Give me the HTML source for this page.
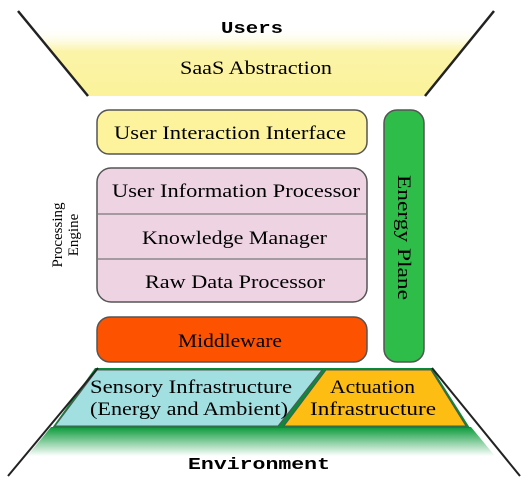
<!DOCTYPE html>
<html><head><style>
body{margin:0;width:531px;height:482px;background:#fff;overflow:hidden}
</style></head><body>
<svg width="531" height="482" xmlns="http://www.w3.org/2000/svg" font-family="Liberation Serif, serif">
<defs>
<linearGradient id="yg" x1="0" y1="0" x2="0" y2="1">
<stop offset="0" stop-color="#fff" stop-opacity="0"/>
<stop offset="0.35" stop-color="#fbf4a8"/>
<stop offset="1" stop-color="#fbf29a"/>
</linearGradient>
<linearGradient id="gg" x1="0" y1="0" x2="0" y2="1">
<stop offset="0" stop-color="#0a9a3a"/>
<stop offset="1" stop-color="#fff"/>
</linearGradient>
</defs>
<polygon points="31,27 482,27 425,96 88,96" fill="url(#yg)"/>
<line x1="18" y1="11" x2="88" y2="96" stroke="#222" stroke-width="2.5"/>
<line x1="494" y1="11" x2="425" y2="96" stroke="#222" stroke-width="2.5"/>
<text x="221" y="33" font-family="Liberation Mono, monospace" font-weight="bold" font-size="17" textLength="62" lengthAdjust="spacingAndGlyphs">Users</text>
<text x="180" y="74" font-size="19" textLength="152" lengthAdjust="spacingAndGlyphs">SaaS Abstraction</text>

<rect x="97" y="110" width="270" height="44" rx="12" fill="#fcf39c" stroke="#555" stroke-width="1.5"/>
<text x="114" y="139" font-size="19" textLength="232" lengthAdjust="spacingAndGlyphs">User Interaction Interface</text>

<rect x="97" y="168" width="270" height="134" rx="14" fill="#eed3e2" stroke="#555" stroke-width="1.5"/>
<line x1="97" y1="214" x2="367" y2="214" stroke="#777" stroke-width="1.2"/>
<line x1="97" y1="259" x2="367" y2="259" stroke="#777" stroke-width="1.2"/>
<text x="112" y="197" font-size="19" textLength="248" lengthAdjust="spacingAndGlyphs">User Information Processor</text>
<text x="142" y="244" font-size="19" textLength="185" lengthAdjust="spacingAndGlyphs">Knowledge Manager</text>
<text x="145" y="288" font-size="19" textLength="180" lengthAdjust="spacingAndGlyphs">Raw Data Processor</text>

<rect x="97" y="317" width="270" height="45" rx="13" fill="#fd5200" stroke="#555" stroke-width="1.5"/>
<text x="178" y="347" font-size="19" textLength="104" lengthAdjust="spacingAndGlyphs">Middleware</text>

<rect x="384" y="110" width="40" height="252" rx="13" fill="#2fbd4a" stroke="#555" stroke-width="1.5"/>
<text transform="translate(398,175) rotate(90)" font-size="19" textLength="125" lengthAdjust="spacingAndGlyphs">Energy Plane</text>

<text transform="translate(62,235) rotate(-90)" font-size="15" text-anchor="middle">Processing</text>
<text transform="translate(78,235) rotate(-90)" font-size="15" text-anchor="middle">Engine</text>

<polygon points="51,427 471,427 495,456 27,456" fill="url(#gg)"/>
<polygon points="95,368 432,368 470,428 52,428" fill="#0a8a3a"/>
<polygon points="97,370 322,370 278,426 55,426" fill="#a2dfe0" stroke="#555" stroke-width="1"/>
<polygon points="326,370 431,370 466,426 284,426" fill="#fdbd12" stroke="#555" stroke-width="1"/>
<line x1="98" y1="368" x2="8" y2="476" stroke="#222" stroke-width="2"/>
<line x1="432" y1="368" x2="520" y2="476" stroke="#222" stroke-width="2"/>
<text x="90" y="393" font-size="19" textLength="202" lengthAdjust="spacingAndGlyphs">Sensory Infrastructure</text>
<text x="90" y="415" font-size="19" textLength="198" lengthAdjust="spacingAndGlyphs">(Energy and Ambient)</text>
<text x="330" y="393" font-size="19" textLength="85" lengthAdjust="spacingAndGlyphs">Actuation</text>
<text x="310" y="415" font-size="19" textLength="126" lengthAdjust="spacingAndGlyphs">Infrastructure</text>
<text x="188" y="469" font-family="Liberation Mono, monospace" font-weight="bold" font-size="17" textLength="142" lengthAdjust="spacingAndGlyphs">Environment</text>
</svg>
</body></html>
